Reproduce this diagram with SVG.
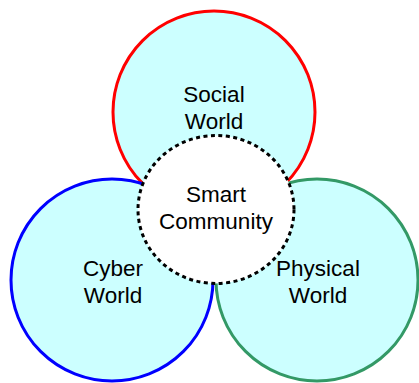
<svg xmlns="http://www.w3.org/2000/svg" width="419" height="383" viewBox="0 0 419 383">
<style>
.w{fill:#CCFFFF;stroke-width:3}
.t{font-family:"Liberation Sans",Arial,sans-serif;font-size:22.5px;fill:#000;text-anchor:middle}
</style>
<rect width="419" height="383" fill="#fff"/>
<g id="social"><circle class="w" cx="214" cy="112" r="101" stroke="#FF0000"/></g>
<g id="cyber"><circle class="w" cx="112" cy="280" r="101" stroke="#0000FF"/></g>
<g id="physical"><circle class="w" cx="317" cy="280" r="101" stroke="#339966"/></g>
<g id="smart"><ellipse cx="216" cy="209.5" rx="78" ry="74" fill="#fff" stroke="#000" stroke-width="3" stroke-dasharray="4,3.5"/></g>
<g id="labels">
<text class="t" x="214" y="102">Social</text>
<text class="t" x="214" y="129">World</text>
<text class="t" x="216" y="202">Smart</text>
<text class="t" x="216" y="229">Community</text>
<text class="t" x="113" y="276">Cyber</text>
<text class="t" x="113" y="303">World</text>
<text class="t" x="318" y="276">Physical</text>
<text class="t" x="318" y="303">World</text>
</g>
</svg>
